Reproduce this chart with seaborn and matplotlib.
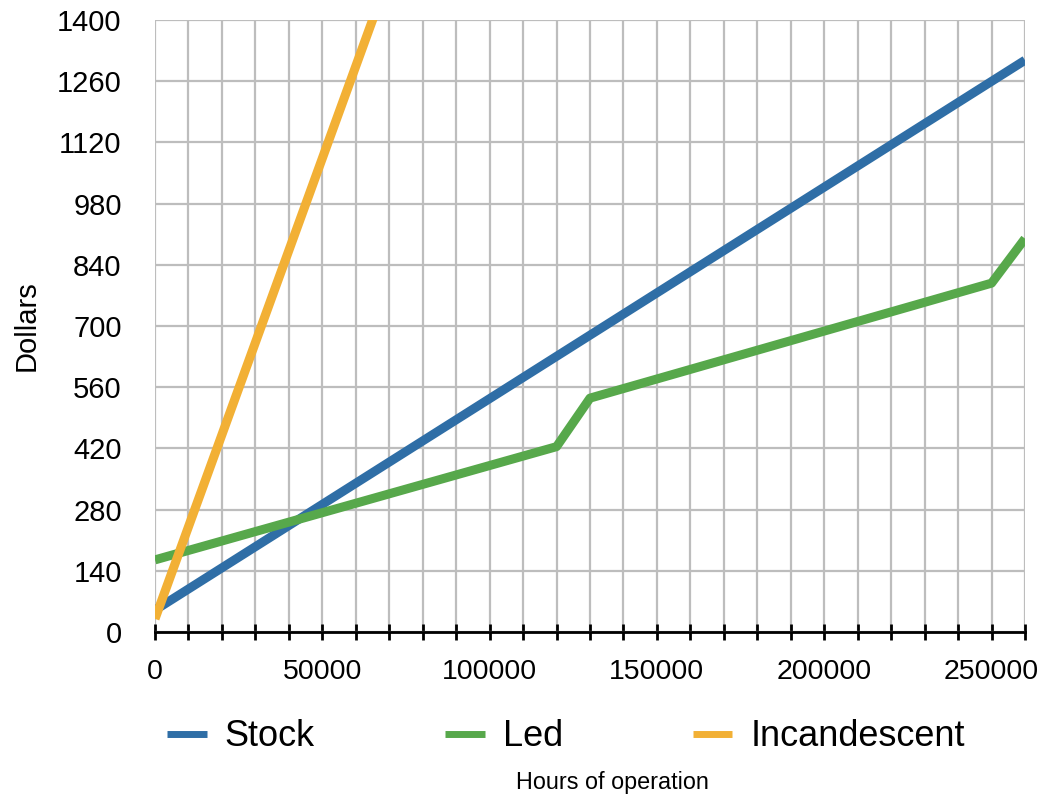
#!/usr/bin/env python3
"""Lamp running cost vs hours of operation, drawn with seaborn."""

import pandas as pd
import seaborn as sns
import matplotlib.pyplot as plt
from matplotlib.ticker import MultipleLocator, FuncFormatter

# values
stock_hours = [0, 260000]
stock_dollars = [50, 1308]

led_hours = [0, 120000, 130000, 250000, 260000]
led_dollars = [165, 424, 535, 798, 900]

incandescent_hours = [0, 70000]
incandescent_dollars = [30, 1505]

series_names = ["Stock", "Led", "Incandescent"]
series_colors = ["#2f6ea6", "#57a84b", "#f2b035"]

y_ticks = [0, 140, 280, 420, 560, 700, 840, 980, 1120, 1260, 1400]


def build_frame() -> pd.DataFrame:
    parts = []
    for name, hrs, dol in zip(
        series_names,
        [stock_hours, led_hours, incandescent_hours],
        [stock_dollars, led_dollars, incandescent_dollars],
    ):
        parts.append(pd.DataFrame({"hours": hrs, "dollars": dol, "lamp": name}))
    return pd.concat(parts, ignore_index=True)


def main():
    sns.set_style("white")
    plt.rcParams["font.family"] = ["Liberation Sans", "DejaVu Sans"]
    plt.rcParams["text.color"] = "black"

    df = build_frame()

    fig, ax = plt.subplots(figsize=(10.45, 7.97), dpi=100)
    fig.subplots_adjust(left=155 / 1045, right=1025 / 1045,
                        top=1 - 20 / 797, bottom=1 - 632 / 797)

    sns.lineplot(data=df, x="hours", y="dollars", hue="lamp",
                 hue_order=series_names, palette=series_colors,
                 linewidth=6.5, sort=False, ax=ax, legend=True)
    for ln in ax.get_lines():
        ln.set_solid_capstyle("butt")

    ax.set_xlim(0, 260000)
    ax.set_ylim(0, 1400)
    ax.xaxis.set_major_locator(MultipleLocator(10000))
    ax.xaxis.set_major_formatter(
        FuncFormatter(lambda v, _: f"{int(round(v))}" if round(v) % 50000 == 0 else ""))
    ax.set_yticks(y_ticks)

    ax.grid(True, color="#bdbdbd", linewidth=1.6)
    ax.set_axisbelow(True)
    for side in ["top", "right", "left"]:
        ax.spines[side].set_visible(False)
    ax.spines["bottom"].set_color("black")
    ax.spines["bottom"].set_linewidth(2)
    ax.spines["bottom"].set_zorder(5)

    ax.tick_params(axis="x", bottom=True, direction="inout", length=11, width=2,
                   color="black", labelcolor="black", labelsize=20.5, pad=14)
    ax.tick_params(axis="y", left=False, length=0, labelcolor="black",
                   labelsize=21, pad=24)
    for t in ax.xaxis.get_major_ticks():
        t.tick1line.set_zorder(6)

    ax.set_xlabel("")
    ax.set_ylabel("Dollars", fontsize=21, labelpad=12, color="black")
    fig.text(612 / 1045, 1 - 783 / 797, "Hours of operation",
             ha="center", va="center", fontsize=16.8, color="black")

    handles, labels = ax.get_legend_handles_labels()
    ax.get_legend().remove()
    leg = fig.legend(handles, labels, loc="center",
                     bbox_to_anchor=(566 / 1045, 1 - 737 / 797), ncol=3,
                     frameon=False, fontsize=26, handlelength=1.1,
                     handletextpad=0.5, columnspacing=3.6)
    for ln in leg.get_lines():
        ln.set_linewidth(5)

    fig.savefig("out.png", dpi=100)
    plt.close(fig)


if __name__ == "__main__":
    main()
